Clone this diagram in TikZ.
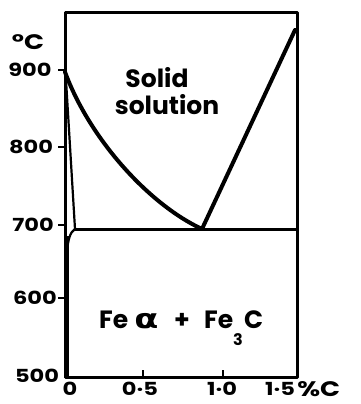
\documentclass[tikz,border=0pt]{standalone}
\usepackage{fontspec}
\newfontfamily\lab{Poppins}
\newfontfamily\grk{DejaVu Sans}
\begin{document}
\begin{tikzpicture}[x=1pt,y=-1pt,
  frame/.style={line width=3pt,line cap=round,line join=round},
  curve/.style={line width=4pt,line cap=round},
  thinline/.style={line width=2.2pt,line cap=round},
  tick/.style={line width=2.4pt},
  axlab/.style={font=\lab\bfseries\fontsize{18}{18}\selectfont,xscale=1.25,inner sep=0pt},
  big/.style={font=\lab\bfseries\fontsize{25}{25}\selectfont,inner sep=0pt}]
\useasboundingbox (0,0) rectangle (360,404);
% frame
\draw[frame] (65,13) rectangle (297,377);
\draw[line width=5.5pt] (66.5,236) -- (66.5,378);
% ticks
\foreach \yy in {70,147,225,298} \draw[tick] (65,\yy) -- (58,\yy);
\foreach \xx in {143,223} \draw[tick] (\xx,377) -- (\xx,370);
% phase lines
\coordinate (A) at (65,72);
\coordinate (E) at (202,229);
\coordinate (R) at (295,30);
\coordinate (S) at (75,229);
\coordinate (L) at (67,252);
\coordinate (H) at (297,229);
\draw[curve] (A) .. controls (90,140) and (150,205) .. (E);
\draw[curve] (E) -- (R);
\draw[frame] (S) -- (H);
\draw[thinline] (66,80) -- (S);
\draw[thinline] (S) .. controls (70,232) and (68,240) .. (L);
% axis labels
\node[axlab,font=\lab\bfseries\fontsize{21}{21}\selectfont] (degc) at (28,42) {°C};
\node[axlab] (t900) at (30,70) {900};
\node[axlab] (t800) at (31,147) {800};
\node[axlab] (t700) at (33,225) {700};
\node[axlab] (t600) at (35,298) {600};
\node[axlab] (t500) at (37,376) {500};
\node[axlab] (c0) at (70,389) {0};
\node[axlab] (c05) at (140,389) {0·5};
\node[axlab] (c10) at (222,389) {1·0};
\node[axlab] (c15) at (280,389) {1·5};
\node[axlab,font=\lab\bfseries\fontsize{21}{21}\selectfont,anchor=west] (pc) at (297,389) {\%C};
% region labels
\node[big] (solid) at (157,78) {Solid};
\node[big] (solution) at (167,105) {solution};
\node[big,anchor=base west] (fe1) at (99,328) {Fe};
\node[font=\grk\bfseries\fontsize{27}{27}\selectfont,xscale=1.3,inner sep=0pt,anchor=base west] (alpha) at (134,328) {α};
\node[big,anchor=base west] (plus) at (174,328) {+};
\node[big,anchor=base west] (fe2) at (204,328) {Fe};
\node[font=\lab\bfseries\fontsize{16}{16}\selectfont,inner sep=0pt] (three) at (238,340) {3};
\node[big,anchor=base west] (cc) at (244,328) {C};
\end{tikzpicture}
\end{document}
